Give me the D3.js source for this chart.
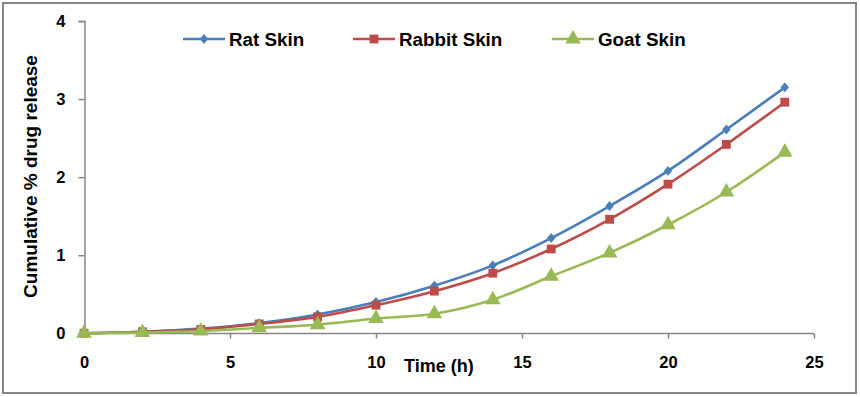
<!DOCTYPE html>
<html><head><meta charset="utf-8">
<script src="https://cdn.jsdelivr.net/npm/d3@7"></script>
<style>body{margin:0;background:#fff}svg{display:block;font-family:"Liberation Sans",Arial,sans-serif;font-weight:bold}</style>
</head><body><svg id="c" width="860" height="397"></svg>
<script>
const times = [0,2,4,6,8,10,12,14,16,18,20,22,24];
const ratSkin    = [0,0.02,0.06,0.13,0.24,0.40,0.61,0.87,1.22,1.63,2.08,2.61,3.15];
const rabbitSkin = [0,0.02,0.05,0.12,0.21,0.36,0.54,0.77,1.08,1.46,1.91,2.42,2.96];
const goatSkin   = [0,0.01,0.03,0.07,0.11,0.19,0.25,0.43,0.73,1.03,1.39,1.81,2.32];
const seriesNames = ["Rat Skin","Rabbit Skin","Goat Skin"];
const xTicks = [0,5,10,15,20,25];
const yTicks = [0,1,2,3,4];

const svg = d3.select("#c");
svg.append("rect").attr("x",3).attr("y",3).attr("width",853).attr("height",390)
  .attr("fill","#fff").attr("stroke","#868686").attr("stroke-width",2);

const x = d3.scaleLinear().domain([0,25]).range([84,814]);
const y = d3.scaleLinear().domain([0,4]).range([333.3,21]);

const axisColor="#868686";
const gy = svg.append("g").attr("transform","translate(84.5,0)")
  .call(d3.axisLeft(y).tickValues(yTicks).tickSize(6).tickPadding(13).tickFormat(d3.format("d")));
const gx = svg.append("g").attr("transform","translate(0,333.5)")
  .call(d3.axisBottom(x).tickValues(xTicks).tickSize(5).tickPadding(18).tickFormat(d3.format("d")));
[gx,gy].forEach(g=>{
  g.select(".domain").attr("stroke",axisColor).attr("stroke-width",1.5);
  g.selectAll(".tick line").attr("stroke",axisColor).attr("stroke-width",1.5);
  g.selectAll(".tick text").attr("fill","#000").attr("font-size",16.5).attr("font-weight","bold")
   .attr("font-family",'"Liberation Sans",Arial,sans-serif');
});
gx.select(".domain").attr("d","M84,0H814");
gx.selectAll(".tick").filter(d=>d===0).select("line").remove();

svg.append("text").attr("x",404).attr("y",372).attr("font-size",18).text("Time (h)");
svg.append("text").attr("transform","translate(37,176.5) rotate(-90)").attr("text-anchor","middle")
  .attr("font-size",19).text("Cumulative % drug release");

const colors = ["#4A7EBB","#BE4B48","#98B954"];
const data = [ratSkin, rabbitSkin, goatSkin];
const line = d3.line().x((d,i)=>x(times[i])).y(d=>y(d)).curve(d3.curveCatmullRom.alpha(0.5));
const diamond = {draw(ctx,size){const w=Math.sqrt(size)*0.6,h=Math.sqrt(size)*0.7;
  ctx.moveTo(0,-h);ctx.lineTo(w,0);ctx.lineTo(0,h);ctx.lineTo(-w,0);ctx.closePath();}};
const symbols = [diamond, d3.symbolSquare, d3.symbolTriangle];
const symSizes = [50, 78, 105];

data.forEach((s,k)=>{
  svg.append("path").attr("d",line(s)).attr("fill","none").attr("stroke",colors[k]).attr("stroke-width",2.6);
});
data.forEach((s,k)=>{
  svg.append("g").selectAll("path").data(s).join("path")
    .attr("transform",(d,i)=>`translate(${x(times[i])},${y(d)})`)
    .attr("d",d3.symbol().type(symbols[k]).size(symSizes[k])).attr("fill",colors[k]);
});

const legX = [183,353,552];
seriesNames.forEach((n,k)=>{
  const g = svg.append("g").attr("transform",`translate(${legX[k]},39)`);
  g.append("line").attr("x1",0).attr("x2",42).attr("stroke",colors[k]).attr("stroke-width",2.6);
  g.append("path").attr("transform","translate(21,0)").attr("d",d3.symbol().type(symbols[k]).size(symSizes[k])).attr("fill",colors[k]);
  g.append("text").attr("x",46).attr("y",6.7).attr("font-size",18.8).text(n);
});
</script></body></html>
